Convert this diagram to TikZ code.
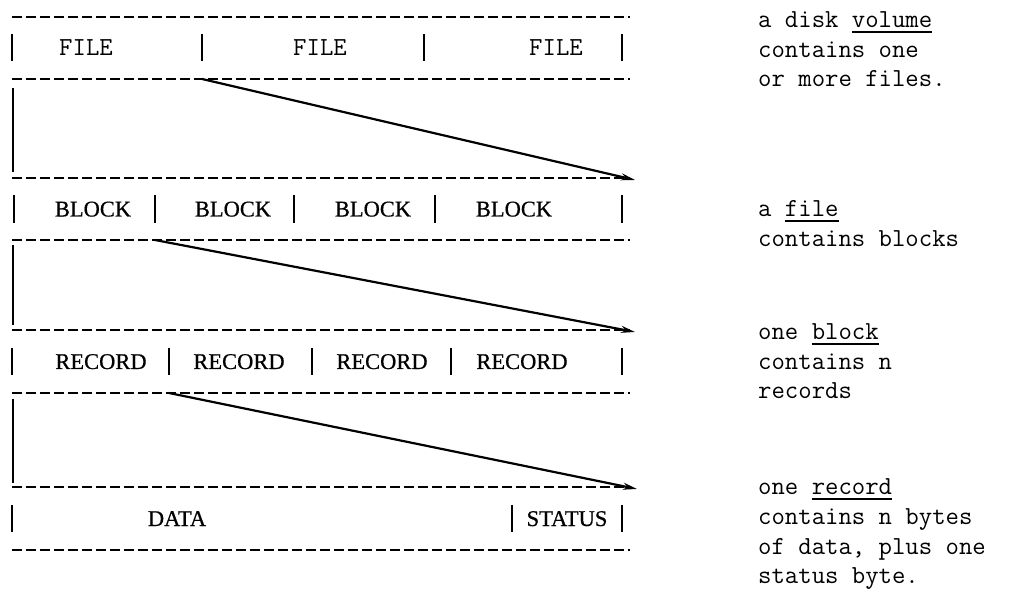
\documentclass[tikz,border=0pt]{standalone}
\usepackage{fontspec}
\usetikzlibrary{arrows.meta}
\newfontfamily\trfont[FakeBold=0.6]{Liberation Serif}
\newcommand\myul[1]{\setbox0\hbox{#1}\rlap{\rule[-5pt]{\wd0}{1.5pt}}\box0}
\begin{document}
\begin{tikzpicture}[x=1pt,y=-1pt,
  dashline/.style={line width=1.8pt, dash pattern=on 10pt off 4pt},
  bar/.style={line width=1.4pt},
  side/.style={line width=2.4pt},
  diag/.style={line width=2.2pt, -{Stealth[length=14pt,width=7pt]}},
  cell/.style={font=\trfont\fontsize{22.5}{27}\selectfont, inner sep=0pt, anchor=base},
  fcell/.style={font=\ttfamily\addfontfeatures{FakeBold=1.2}\fontsize{26}{29}\selectfont, inner sep=0pt, anchor=base},
  note/.style={font=\ttfamily\addfontfeatures{FakeBold=1}\fontsize{26}{29.5}\selectfont, inner sep=0pt, anchor=base west}
]
\useasboundingbox (0,0) rectangle (1026,593);
% dashed horizontal lines
\foreach \y [count=\i] in {17,79,178,240,330,393,487,550}{
  \coordinate (w\i) at (12,\y);
  \coordinate (e\i) at (630,\y);
  \draw[dashline] (w\i) -- (e\i);
}
% row 1: FILE
\foreach \x in {12,202,424,622}{\draw[bar] (\x,34) -- (\x,61);}
\node[fcell] (file1) at (86,55.5) {FILE};
\node[fcell] (file2) at (320,55.5) {FILE};
\node[fcell] (file3) at (556,55.5) {FILE};
% row 2: BLOCK
\foreach \x in {14,155,294,435,622}{\draw[bar] (\x,195) -- (\x,223);}
\node[cell] (block1) at (93,216.5) {BLOCK};
\node[cell] (block2) at (233,216.5) {BLOCK};
\node[cell] (block3) at (373,216.5) {BLOCK};
\node[cell] (block4) at (514,216.5) {BLOCK};
% row 3: RECORD
\foreach \x in {12,169,312,451,622}{\draw[bar] (\x,348) -- (\x,375);}
\node[cell] (rec1) at (101,369) {RECORD};
\node[cell] (rec2) at (239,369) {RECORD};
\node[cell] (rec3) at (382,369) {RECORD};
\node[cell] (rec4) at (522,369) {RECORD};
% row 4: DATA / STATUS
\foreach \x in {12,512,622}{\draw[bar] (\x,505) -- (\x,532);}
\node[cell] (data) at (177,526) {DATA};
\node[cell] (status) at (567,526) {STATUS};
% left solid sides
\draw[side] (13,88) -- (13,172);
\draw[side] (13,245) -- (13,325);
\draw[side] (13,399) -- (13,483);
% diagonals
\coordinate (s1) at (202,79);  \coordinate (t1) at (635,180);
\coordinate (s2) at (155,240); \coordinate (t2) at (635,332);
\coordinate (s3) at (169,393); \coordinate (t3) at (637,489);
\draw[diag] (s1) -- (t1);
\draw[diag] (s2) -- (t2);
\draw[diag] (s3) -- (t3);
% notes
\node[note] (n1) at (758,28) {\parbox[t]{260pt}{a disk \myul{volume}\\contains one\\or more files.}};
\node[note] (n2) at (758,217) {\parbox[t]{260pt}{a \myul{file}\\contains blocks}};
\node[note] (n3) at (758,340) {\parbox[t]{260pt}{one \myul{block}\\contains n\\records}};
\node[note] (n4) at (758,495) {\parbox[t]{260pt}{one \myul{record}\\contains n bytes\\of data, plus one\\status byte.}};
\end{tikzpicture}
\end{document}
